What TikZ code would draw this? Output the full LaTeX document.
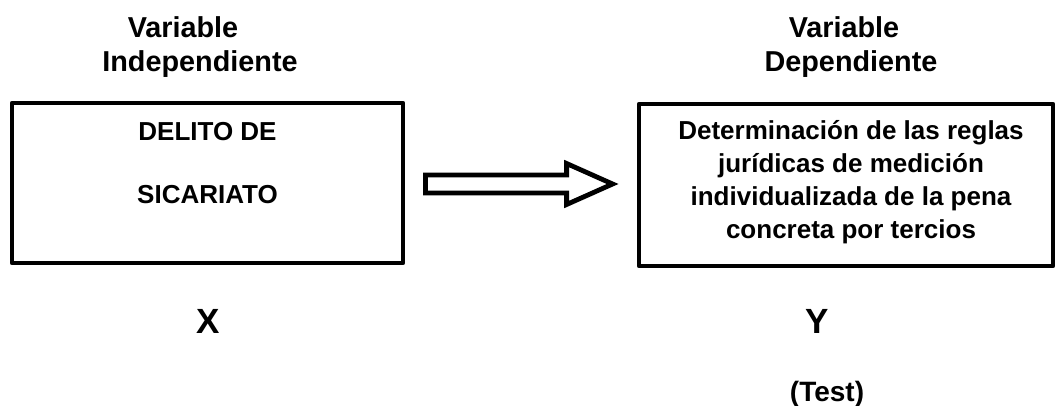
\documentclass[tikz,border=0pt]{standalone}
\usepackage{fontspec}
\setmainfont{Liberation Sans}
\usetikzlibrary{calc}

\begin{document}
\begin{tikzpicture}[x={1pt},y={1pt},
  box/.style={draw, line width=4.8pt, line join=round, inner sep=0pt},
  heading/.style={align=center, anchor=base, inner sep=0pt, font=\fontsize{28.8}{34}\selectfont\bfseries},
  boxtext/.style={align=center, anchor=base, inner sep=0pt, font=\fontsize{26}{33}\selectfont\bfseries},
  letter/.style={anchor=base, inner sep=0pt, font=\fontsize{35}{40}\selectfont\bfseries}]
\useasboundingbox (0,0) rectangle (1057,405);

\node [box, minimum width=391, minimum height=160] (VI) at (207.5,222) {};
\node [box, minimum width=414, minimum height=162] (VD) at (846,220) {};

\node [heading] (VItitle) at (200,333) {Variable\hspace*{34pt}\\Independiente};
\node [heading] (VDtitle) at (851,333) {Variable\hspace*{14pt}\\Dependiente};

\node [boxtext] (VItext) at (207.5,202) {DELITO DE\\[30pt]SICARIATO};
\node [boxtext] (VDtext) at (851,167) {Determinación de las reglas\\jurídicas de medición\\individualizada de la pena\\concreta por tercios};

\coordinate (Start) at ($(VI.east)+(20,-1)$);
\coordinate (Tip) at ($(VD.west)+(-24,1)$);
\draw [line width=4.8pt] ($(Start)+(0,9)$) -- ($(Tip)+(-46,9)$) -- ($(Tip)+(-46,20.5)$) -- (Tip)
  -- ($(Tip)+(-46,-20.5)$) -- ($(Tip)+(-46,-9)$) -- ($(Start)+(0,-9)$) -- cycle;

\node [letter] (X) at (208,72) {X};
\node [letter] (Y) at (817,72) {Y};
\node [anchor=base, inner sep=0pt, font=\fontsize{28}{32}\selectfont\bfseries] (Test) at (827,4) {(Test)};

\end{tikzpicture}
\end{document}
